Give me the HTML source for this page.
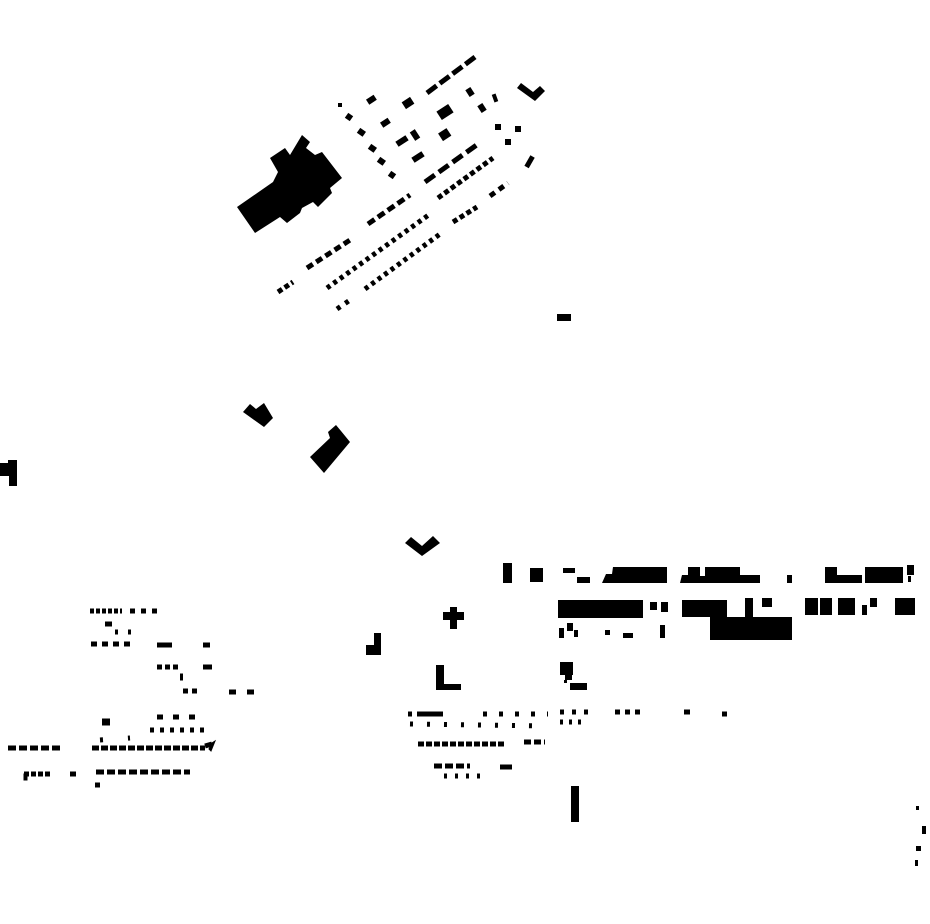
<!DOCTYPE html>
<html><head><style>html,body{margin:0;padding:0;background:#fff}svg{display:block}</style></head>
<body>
<svg width="930" height="924" viewBox="0 0 930 924" xmlns="http://www.w3.org/2000/svg" fill="#000" stroke="#000">
<g stroke="none">
<polygon points="237,207 273,182 278,172 270,158 285,148 290,155 302,135 310,142 306,148 315,155 322,152 342,178 330,188 332,193 318,207 313,202 302,208 300,213 287,223 280,217 255,233"/>
<polygon points="517,88 521,83 533,92 540,86 545,91 535,101"/>
<rect x="338" y="103" width="4" height="4"/>
<rect x="346" y="114" width="6" height="6" transform="rotate(35 349 117)"/>
<rect x="358" y="129" width="7" height="6" transform="rotate(35 361 132)"/>
<rect x="369" y="145" width="7" height="6" transform="rotate(35 372 148)"/>
<rect x="378" y="158" width="7" height="6" transform="rotate(35 381 161)"/>
<rect x="389" y="172" width="6" height="6" transform="rotate(35 392 175)"/>
<rect x="367" y="97" width="9" height="6" transform="rotate(-33 371 100)"/>
<rect x="403" y="99" width="10" height="8" transform="rotate(-33 408 103)"/>
<rect x="381" y="120" width="9" height="6" transform="rotate(-33 385 123)"/>
<rect x="396" y="138" width="12" height="6" transform="rotate(-33 402 141)"/>
<rect x="412" y="130" width="6" height="10" transform="rotate(-33 415 135)"/>
<rect x="412" y="154" width="12" height="6" transform="rotate(-33 418 157)"/>
<rect x="438" y="107" width="14" height="10" transform="rotate(-33 445 112)"/>
<rect x="440" y="130" width="10" height="9" transform="rotate(-33 445 135)"/>
<rect x="467" y="88" width="6" height="8" transform="rotate(-33 470 92)"/>
<rect x="479" y="104" width="6" height="8" transform="rotate(-33 482 108)"/>
<rect x="493" y="94" width="4" height="8" transform="rotate(-20 495 98)"/>
<rect x="495" y="124" width="6" height="6"/>
<rect x="515" y="126" width="6" height="6"/>
<rect x="505" y="139" width="6" height="6"/>
<rect x="527" y="156" width="5" height="12" transform="rotate(30 530 162)"/>
</g>
<g fill="none" stroke-width="5">
<line x1="427" y1="93" x2="475" y2="57" stroke-dasharray="12 4"/>
<line x1="278" y1="292" x2="293" y2="282" stroke-dasharray="5 3"/>
<line x1="307" y1="268" x2="350" y2="240" stroke-dasharray="7 4"/>
<line x1="368" y1="224" x2="410" y2="195" stroke-dasharray="8 4"/>
<line x1="425" y1="182" x2="478" y2="144" stroke-dasharray="12 5"/>
<line x1="327" y1="288" x2="430" y2="214" stroke-dasharray="4 4"/>
<line x1="438" y1="198" x2="493" y2="158" stroke-dasharray="5 3"/>
<line x1="365" y1="289" x2="440" y2="234" stroke-dasharray="4 4"/>
<line x1="453" y1="222" x2="477" y2="207" stroke-dasharray="5 3"/>
<line x1="490" y1="196" x2="508" y2="183" stroke-dasharray="6 5"/>
<line x1="337" y1="309" x2="353" y2="298" stroke-dasharray="4 6"/>
</g>
<g stroke="none">
<rect x="557" y="314" width="14" height="7"/>
<polygon points="243,412 250,404 256,409 264,403 273,418 264,427"/>
<polygon points="310,457 330,438 328,432 336,425 341,431 350,442 324,473"/>
<polygon points="0,463 8,463 8,460 17,460 17,486 9,486 9,476 0,476"/>
<polygon points="405,543 411,537 422,546 433,536 440,543 422,556"/>
<polygon points="443,612 450,612 450,607 457,607 457,612 464,612 464,620 457,620 457,629 450,629 450,620 443,620"/>
<polygon points="366,645 374,645 374,633 381,633 381,655 366,655"/>
<polygon points="436,665 444,665 444,684 461,684 461,690 436,690"/>
<rect x="571" y="786" width="8" height="36"/>
<rect x="916" y="806" width="3" height="4"/><rect x="922" y="826" width="4" height="8"/><rect x="916" y="846" width="5" height="5"/><rect x="915" y="860" width="3" height="6"/>
<rect x="503" y="563" width="9" height="20"/><rect x="530" y="568" width="13" height="14"/>
<rect x="563" y="568" width="12" height="5"/><rect x="577" y="577" width="13" height="6"/>
<polygon points="602,583 606,574 612,574 613,567 667,567 667,583"/>
<polygon points="680,583 682,575 688,575 688,567 700,567 700,576 705,576 705,567 740,567 740,575 760,575 760,583"/>
<rect x="787" y="575" width="5" height="8"/>
<rect x="825" y="567" width="12" height="16"/><rect x="837" y="575" width="25" height="8"/>
<rect x="865" y="567" width="38" height="16"/><rect x="907" y="565" width="7" height="10"/><rect x="908" y="576" width="3" height="6"/>
<rect x="558" y="600" width="85" height="18"/>
<rect x="650" y="602" width="7" height="8"/><rect x="661" y="602" width="7" height="10"/>
<rect x="682" y="600" width="45" height="17"/><rect x="710" y="617" width="82" height="23"/>
<rect x="745" y="598" width="8" height="19"/><rect x="762" y="598" width="10" height="9"/>
<rect x="805" y="598" width="13" height="17"/><rect x="820" y="598" width="12" height="17"/>
<rect x="838" y="598" width="17" height="17"/><rect x="862" y="605" width="5" height="10"/><rect x="870" y="598" width="7" height="9"/>
<rect x="895" y="598" width="20" height="17"/>
<rect x="559" y="628" width="5" height="10"/><rect x="567" y="623" width="6" height="8"/><rect x="574" y="630" width="4" height="7"/>
<rect x="605" y="630" width="5" height="5"/><rect x="623" y="633" width="10" height="5"/><rect x="660" y="625" width="5" height="13"/>
<rect x="560" y="662" width="13" height="13"/><rect x="565" y="675" width="7" height="5"/><rect x="564" y="680" width="3" height="3"/><rect x="570" y="683" width="17" height="7"/>
</g>
<g fill="none" stroke-width="5">
<line x1="560" y1="712" x2="590" y2="712" stroke-dasharray="4 8"/>
<line x1="615" y1="712" x2="645" y2="712" stroke-dasharray="5 5"/>
<line x1="684" y1="712" x2="690" y2="712"/><line x1="722" y1="714" x2="727" y2="714"/>
<line x1="560" y1="722" x2="585" y2="722" stroke-dasharray="3 6"/>
<line x1="408" y1="714" x2="440" y2="714" stroke-dasharray="4 5"/>
<line x1="420" y1="714" x2="443" y2="714"/>
<line x1="483" y1="714" x2="548" y2="714" stroke-dasharray="4 12"/>
<line x1="410" y1="724" x2="545" y2="726" stroke-dasharray="3 14"/>
<line x1="418" y1="744" x2="505" y2="744" stroke-dasharray="6 2"/>
<line x1="524" y1="742" x2="545" y2="742" stroke-dasharray="7 3"/>
<line x1="434" y1="766" x2="470" y2="766" stroke-dasharray="8 3"/>
<line x1="500" y1="767" x2="512" y2="767"/>
<line x1="436" y1="776" x2="482" y2="776" stroke-dasharray="3 8" stroke-dashoffset="-30"/>
<line x1="90" y1="611" x2="122" y2="611" stroke-dasharray="4 2"/>
<line x1="130" y1="611" x2="163" y2="611" stroke-dasharray="5 6"/>
<line x1="105" y1="624" x2="112" y2="624"/>
<line x1="115" y1="632" x2="140" y2="632" stroke-dasharray="3 10"/>
<line x1="91" y1="644" x2="135" y2="644" stroke-dasharray="6 5"/>
<line x1="157" y1="645" x2="172" y2="645"/><line x1="203" y1="645" x2="210" y2="645"/>
<line x1="157" y1="667" x2="180" y2="667" stroke-dasharray="5 3"/><line x1="203" y1="667" x2="212" y2="667"/>
<line x1="180" y1="677" x2="183" y2="677" stroke-width="7"/>
<line x1="183" y1="691" x2="200" y2="691" stroke-dasharray="5 4"/>
<line x1="229" y1="692" x2="254" y2="692" stroke-dasharray="7 11"/>
<line x1="102" y1="722" x2="110" y2="722" stroke-width="7"/>
<line x1="157" y1="717" x2="197" y2="717" stroke-dasharray="6 10"/>
<line x1="150" y1="730" x2="210" y2="730" stroke-dasharray="4 6"/>
<line x1="8" y1="748" x2="62" y2="748" stroke-dasharray="8 3"/>
<line x1="92" y1="748" x2="205" y2="748" stroke-dasharray="7 2"/>
<line x1="205" y1="746" x2="212" y2="744"/>
<line x1="100" y1="740" x2="130" y2="738" stroke-dasharray="3 25"/>
<line x1="24" y1="774" x2="52" y2="774" stroke-dasharray="5 2"/>
<line x1="70" y1="774" x2="76" y2="774"/>
<line x1="96" y1="772" x2="190" y2="772" stroke-dasharray="8 3"/>
<line x1="95" y1="785" x2="100" y2="785"/>
</g>
<rect x="24" y="774" width="3" height="6"/>
<polygon points="209,749 212,743 215,741 211,751"/>
</svg>
</body></html>
